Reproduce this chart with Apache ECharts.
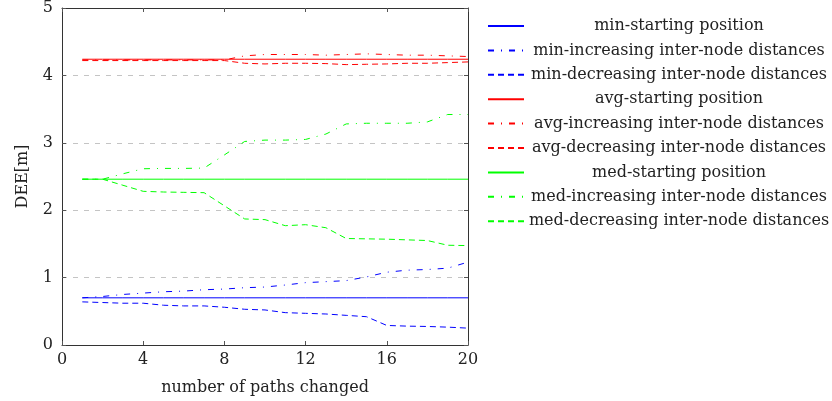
<!DOCTYPE html>
<html>
<head>
<meta charset="utf-8">
<title>DEE vs paths changed</title>
<script src="https://cdn.jsdelivr.net/npm/echarts@6/dist/echarts.min.js"></script>
<style>
  html, body { margin: 0; padding: 0; background: #fff; }
  #chart { width: 832px; height: 401px; }
</style>
</head>
<body>
<div id="chart"></div>
<script>
// x values: number of paths changed
var pathsChanged = [1, 2, 3, 4, 5, 6, 7, 8, 9, 10, 11, 12, 13, 14, 15, 16, 17, 18, 19, 20];
var xTicks = [0, 4, 8, 12, 16, 20];
var yTicks = [0, 1, 2, 3, 4, 5];

// min
var minStart = [0.70, 0.70, 0.70, 0.70, 0.70, 0.70, 0.70, 0.70, 0.70, 0.70, 0.70, 0.70, 0.70, 0.70, 0.70, 0.70, 0.70, 0.70, 0.70, 0.70];
var minInc = [0.70, 0.72, 0.75, 0.77, 0.79, 0.80, 0.82, 0.83, 0.85, 0.86, 0.89, 0.925, 0.94, 0.955, 1.01, 1.08, 1.11, 1.12, 1.14, 1.23];
var minDec = [0.64, 0.63, 0.62, 0.62, 0.59, 0.58, 0.58, 0.56, 0.53, 0.52, 0.48, 0.47, 0.46, 0.44, 0.42, 0.29, 0.28, 0.275, 0.265, 0.25];

// avg
var avgStart = [4.24, 4.24, 4.24, 4.24, 4.24, 4.24, 4.24, 4.24, 4.24, 4.24, 4.24, 4.24, 4.24, 4.24, 4.24, 4.24, 4.24, 4.24, 4.24, 4.24];
var avgInc = [4.23, 4.23, 4.23, 4.23, 4.23, 4.23, 4.23, 4.23, 4.29, 4.31, 4.31, 4.31, 4.30, 4.31, 4.32, 4.31, 4.30, 4.30, 4.29, 4.28];
var avgDec = [4.22, 4.22, 4.22, 4.22, 4.22, 4.22, 4.22, 4.22, 4.18, 4.17, 4.18, 4.18, 4.175, 4.16, 4.165, 4.17, 4.18, 4.18, 4.19, 4.20];

// med
var medStart = [2.46, 2.46, 2.46, 2.46, 2.46, 2.46, 2.46, 2.46, 2.46, 2.46, 2.46, 2.46, 2.46, 2.46, 2.46, 2.46, 2.46, 2.46, 2.46, 2.46];
var medInc = [2.46, 2.46, 2.54, 2.615, 2.62, 2.62, 2.625, 2.82, 3.02, 3.04, 3.04, 3.05, 3.13, 3.28, 3.29, 3.29, 3.29, 3.31, 3.42, 3.42];
var medDec = [2.46, 2.46, 2.37, 2.28, 2.27, 2.265, 2.26, 2.065, 1.87, 1.86, 1.77, 1.785, 1.74, 1.58, 1.575, 1.57, 1.56, 1.55, 1.48, 1.475];

var seriesNames = [
  'min-starting position',
  'min-increasing inter-node distances',
  'min-decreasing inter-node distances',
  'avg-starting position',
  'avg-increasing inter-node distances',
  'avg-decreasing inter-node distances',
  'med-starting position',
  'med-increasing inter-node distances',
  'med-decreasing inter-node distances'
];

var FONT = 'DejaVu Serif';
var TEXT = '#222';
var DASHDOT = [6, 7, 1, 7];
var DASHED = [6, 4];

function pairs(ys) {
  return pathsChanged.map(function (x, i) { return [x, ys[i]]; });
}

function line(name, ys, color, type) {
  return {
    name: name,
    type: 'line',
    data: pairs(ys),
    symbol: 'none',
    showSymbol: false,
    lineStyle: { color: color, width: 1, type: type },
    itemStyle: { color: color },
    emphasis: { disabled: true }
  };
}

var chart = echarts.init(document.getElementById('chart'));

chart.setOption({
  animation: false,
  textStyle: { fontFamily: FONT },
  grid: { left: 62, right: 364, top: 8, bottom: 55 },
  legend: {
    orient: 'vertical',
    left: 482,
    top: 13,
    itemWidth: 36,
    itemHeight: 14,
    itemGap: 8.4,
    data: seriesNames,
    itemStyle: { opacity: 0 },
    formatter: function (name) { return '{t|' + name + '}'; },
    textStyle: {
      fontFamily: FONT,
      fontSize: 16,
      color: TEXT,
      rich: { t: { width: 300, align: 'center', fontFamily: FONT, fontSize: 16, color: TEXT } }
    }
  },
  xAxis: [{
    type: 'value',
    min: xTicks[0],
    max: xTicks[xTicks.length - 1],
    interval: 4,
    name: 'number of paths changed',
    nameLocation: 'middle',
    nameGap: 35,
    nameTextStyle: { fontFamily: FONT, fontSize: 16, color: TEXT },
    axisLine: { onZero: false, lineStyle: { color: '#333', width: 1 } },
    axisTick: { inside: true, length: 4, lineStyle: { color: '#555' } },
    axisLabel: { fontFamily: FONT, fontSize: 16, color: TEXT, margin: 7 },
    splitLine: { show: false }
  }, {
    type: 'value',
    position: 'top',
    min: xTicks[0],
    max: xTicks[xTicks.length - 1],
    interval: 4,
    axisLine: { onZero: false, lineStyle: { color: '#333', width: 1 } },
    axisTick: { inside: true, length: 4, lineStyle: { color: '#555' } },
    axisLabel: { show: false },
    splitLine: { show: false }
  }],
  yAxis: [{
    type: 'value',
    min: yTicks[0],
    max: yTicks[yTicks.length - 1],
    interval: 1,
    name: 'DEE[m]',
    nameLocation: 'middle',
    nameGap: 31,
    nameTextStyle: { fontFamily: FONT, fontSize: 16, color: TEXT },
    axisLine: { show: true, onZero: false, lineStyle: { color: '#333', width: 1 } },
    axisTick: { show: true, inside: true, length: 4, lineStyle: { color: '#555' } },
    axisLabel: { fontFamily: FONT, fontSize: 16, color: TEXT, margin: 9 },
    splitLine: { show: true, lineStyle: { color: '#c4c4c4', width: 1, type: [5, 6] } }
  }, {
    type: 'value',
    position: 'right',
    min: yTicks[0],
    max: yTicks[yTicks.length - 1],
    interval: 1,
    axisLine: { show: true, onZero: false, lineStyle: { color: '#333', width: 1 } },
    axisTick: { show: true, inside: true, length: 4, lineStyle: { color: '#555' } },
    axisLabel: { show: false },
    splitLine: { show: false }
  }],
  series: [
    line(seriesNames[0], minStart, '#0000ff', 'solid'),
    line(seriesNames[1], minInc, '#0000ff', DASHDOT),
    line(seriesNames[2], minDec, '#0000ff', DASHED),
    line(seriesNames[3], avgStart, '#ff0000', 'solid'),
    line(seriesNames[4], avgInc, '#ff0000', DASHDOT),
    line(seriesNames[5], avgDec, '#ff0000', DASHED),
    line(seriesNames[6], medStart, '#00ff00', 'solid'),
    line(seriesNames[7], medInc, '#00ff00', DASHDOT),
    line(seriesNames[8], medDec, '#00ff00', DASHED)
  ]
});
</script>
</body>
</html>
